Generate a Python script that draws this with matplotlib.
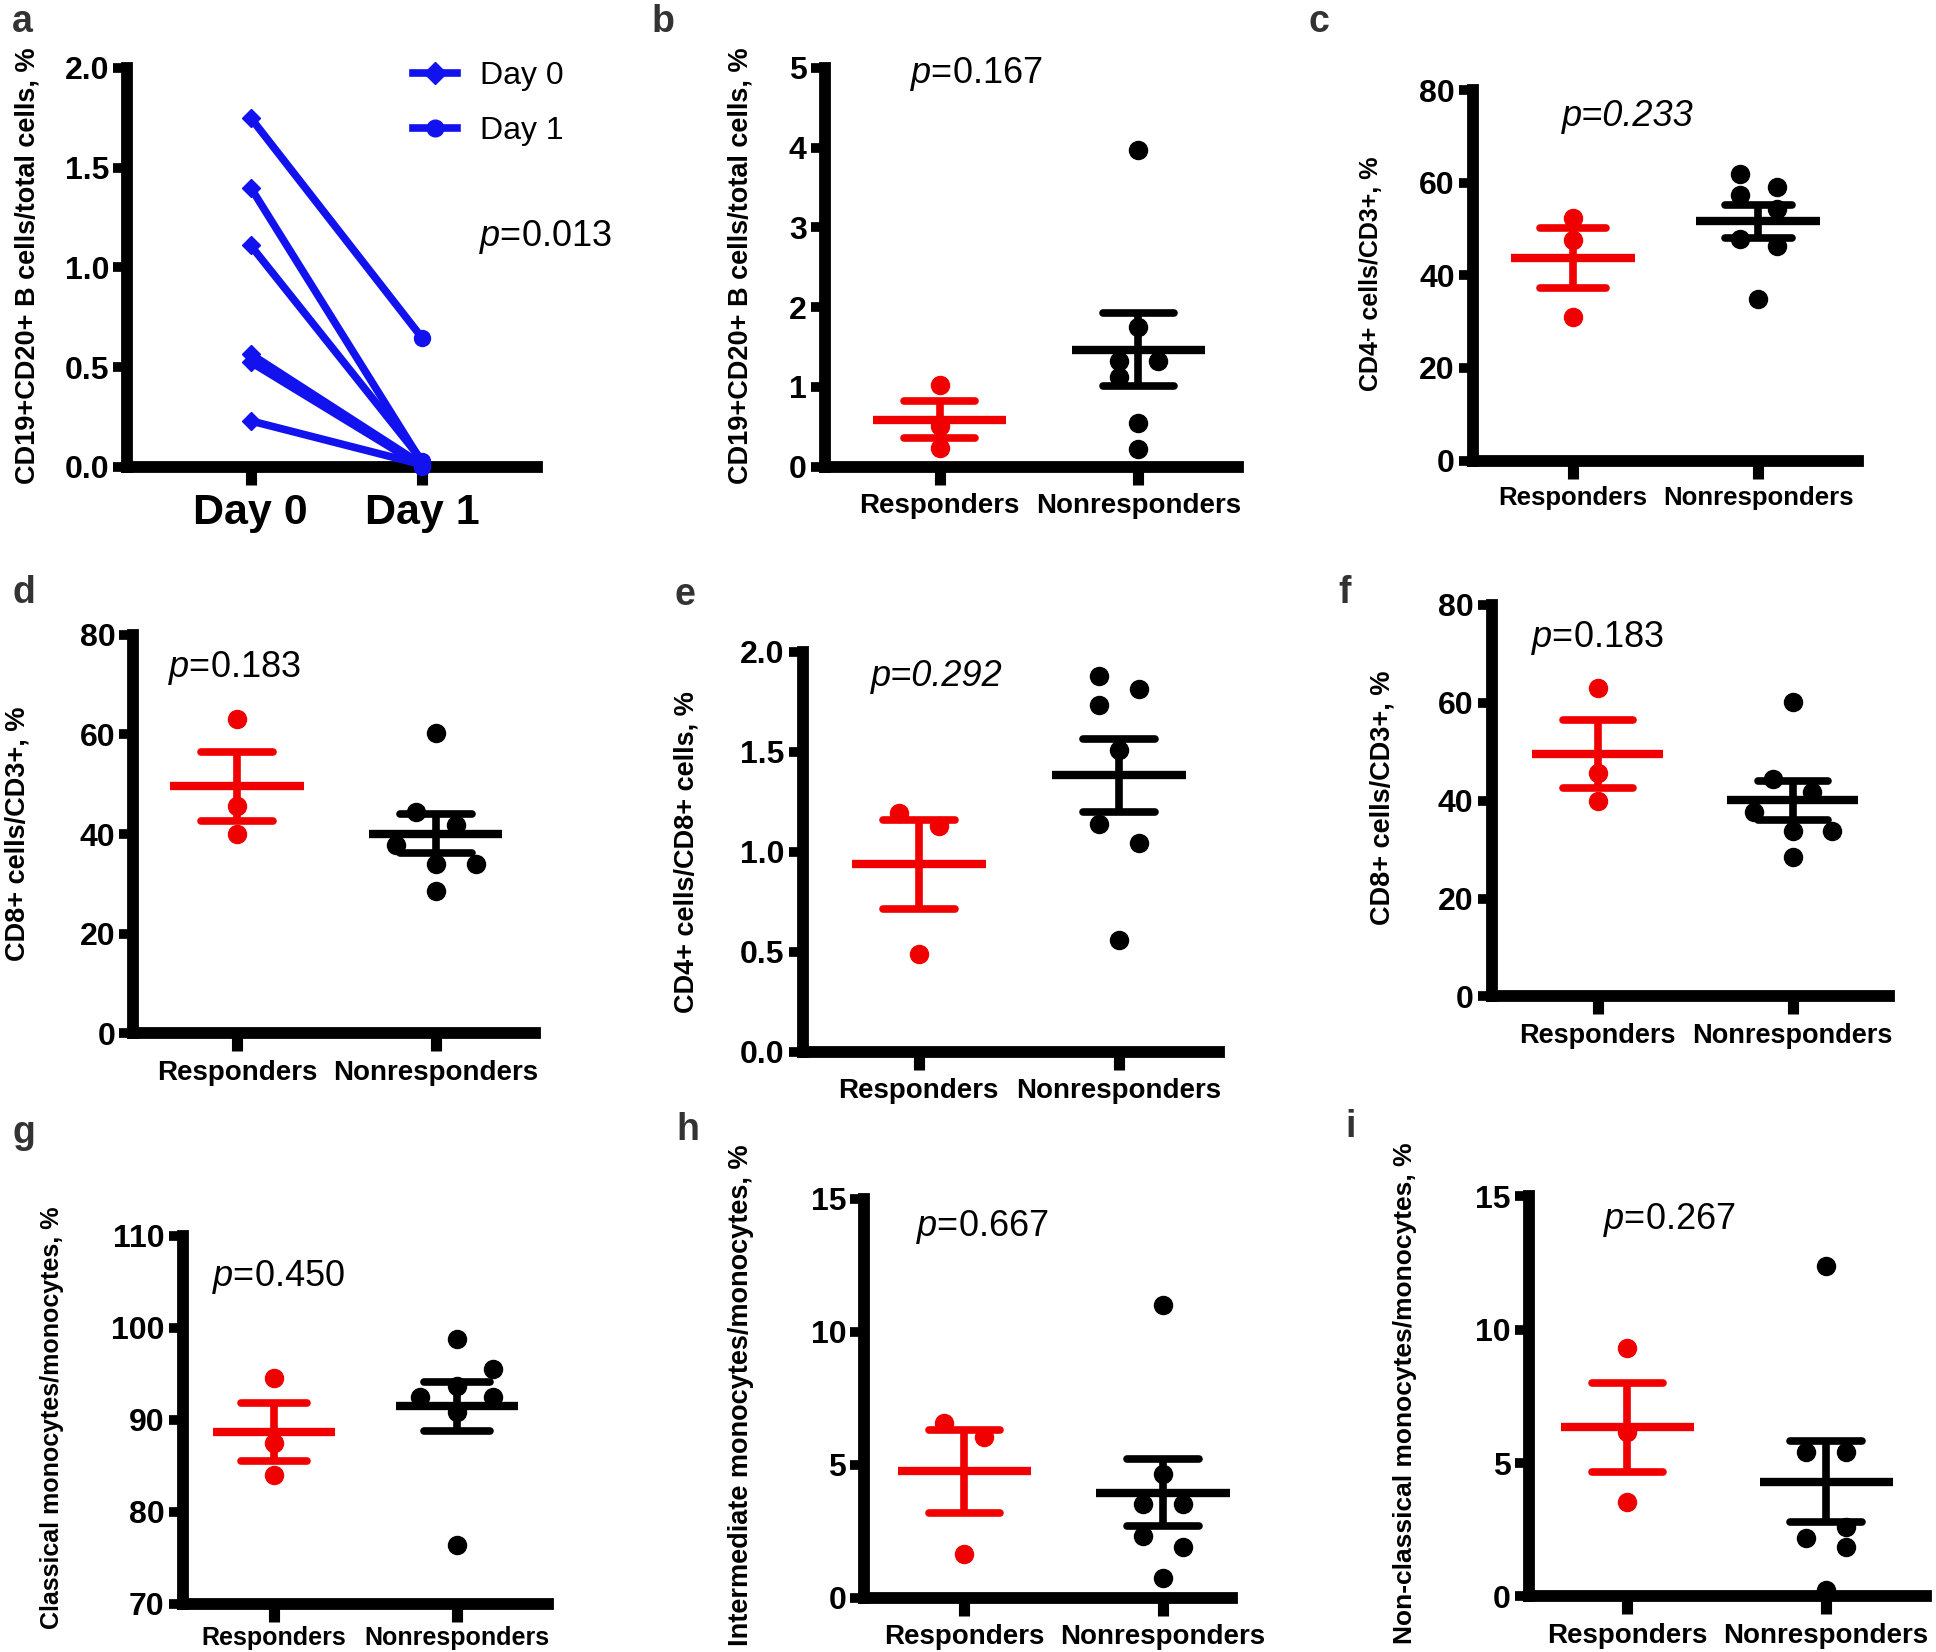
import matplotlib
matplotlib.use("Agg")
import matplotlib.pyplot as plt
from matplotlib.lines import Line2D
import numpy as np

plt.rcParams['font.family'] = ['Liberation Sans', 'DejaVu Sans']
plt.rcParams['mathtext.fontset'] = 'custom'
plt.rcParams['mathtext.rm'] = 'Liberation Sans'
plt.rcParams['mathtext.it'] = 'Liberation Sans:italic'
plt.rcParams['mathtext.bf'] = 'Liberation Sans:bold'

# ---------------- data ----------------
groups = ["Responders", "Nonresponders"]
days = ["Day 0", "Day 1"]

a_day0 = [1.75, 1.40, 1.11, 0.565, 0.525, 0.23]
a_day1 = [0.645, 0.02, 0.03, 0.01, 0.0, 0.01]

b_resp = [1.02, 0.51, 0.24]
b_non = [3.97, 1.75, 1.33, 1.33, 1.13, 0.55, 0.22]

c_resp = [52.4, 47.6, 31.0]
c_non = [61.9, 59.0, 57.4, 54.4, 47.9, 46.3, 34.8]

d_resp = [63.0, 45.7, 40.0]
d_non = [60.2, 44.4, 41.8, 37.7, 33.9, 33.9, 28.5]

e_resp = [1.193, 1.129, 0.491]
e_non = [1.879, 1.814, 1.733, 1.509, 1.138, 1.043, 0.560]

f_resp = [63.0, 45.7, 40.0]
f_non = [60.2, 44.4, 41.8, 37.7, 33.9, 33.9, 28.5]

g_resp = [94.6, 87.5, 84.0]
g_non = [98.8, 95.5, 93.7, 92.5, 92.5, 90.9, 76.4]

h_resp = [6.58, 6.03, 1.66]
h_non = [10.99, 4.64, 3.51, 3.51, 2.32, 1.92, 0.73]

i_resp = [9.32, 6.17, 3.53]
i_non = [12.40, 5.42, 5.42, 2.6, 2.21, 1.85, 0.26]

p_texts = {"a": "0.013", "b": "0.167", "c": "0.233", "d": "0.183", "e": "0.292",
           "f": "0.183", "g": "0.450", "h": "0.667", "i": "0.267"}

ylabels = {
    "a": "CD19+CD20+ B cells/total cells, %",
    "b": "CD19+CD20+ B cells/total cells, %",
    "c": "CD4+ cells/CD3+, %",
    "d": "CD8+ cells/CD3+, %",
    "e": "CD4+ cells/CD8+ cells, %",
    "f": "CD8+ cells/CD3+, %",
    "g": "Classical monocytes/monocytes, %",
    "h": "Intermediate monocytes/monocytes, %",
    "i": "Non-classical monocytes/monocytes, %",
}

# ---------------- layout (reference pixel frame) ----------------
SX, SY = 1568.0, 1338.0
RED = "#f00000"
BLUE = "#1212ee"
BLACK = "#000000"

fig = plt.figure(figsize=(19.36, 16.52), dpi=100)


def frame(xl, xr, yt, yb):
    return [xl / SX, 1 - yb / SY, (xr - xl) / SX, (yb - yt) / SY]


def make_axes(box, cats_px, yticks, ylabels_fmt, xlabels, xlabel_size=20, xpad=6):
    xl, xr, yt, yb = box
    ax = fig.add_axes(frame(xl, xr, yt, yb))
    c0, c1 = cats_px
    unit = c1 - c0
    ax.set_xlim((xl - c0) / unit, (xr - c0) / unit)
    ax.set_ylim(yticks[0], yticks[-1])
    for s in ['top', 'right']:
        ax.spines[s].set_visible(False)
    for s in ['left', 'bottom']:
        ax.spines[s].set_linewidth(8.5)
        ax.spines[s].set_capstyle('projecting')
    ax.set_yticks(yticks)
    ax.set_yticklabels([ylabels_fmt.format(v) for v in yticks])
    ax.set_xticks([0, 1])
    ax.set_xticklabels(xlabels)
    ax.tick_params(axis='y', direction='out', length=10, width=7, pad=3, labelsize=23)
    ax.tick_params(axis='x', direction='out', length=13, width=8, pad=xpad,
                   labelsize=xlabel_size)
    for lbl in ax.get_yticklabels() + ax.get_xticklabels():
        lbl.set_fontweight('bold')
    ax.patch.set_alpha(0)
    return ax


def scatter_group(ax, x, vals, offs, color):
    vals = np.asarray(vals, dtype=float)
    xs = x + np.asarray(offs, dtype=float)
    ax.plot(xs, vals, 'o', ms=13, color=color, mec=color, clip_on=False, zorder=3)
    m = vals.mean()
    s = vals.std(ddof=1) / np.sqrt(len(vals))
    lc = ax.hlines(m, x - 0.335, x + 0.335, colors=color, lw=6, zorder=4)
    lc.set_capstyle('butt')
    cc = ax.hlines([m - s, m + s], x - 0.18, x + 0.18, colors=color, lw=5.5, zorder=4)
    cc.set_capstyle('round')
    ax.vlines(x, m - s, m + s, colors=color, lw=5.5, zorder=4)


def ptext(ax_x, ax_y, key, italic_all=False):
    if italic_all:
        fig.text(ax_x / SX, 1 - ax_y / SY, "p=" + p_texts[key], fontsize=26,
                 fontstyle='italic', va='center', ha='left')
    else:
        fig.text(ax_x / SX, 1 - ax_y / SY, "$p$=" + p_texts[key], fontsize=26,
                 va='center', ha='left')


def ylab(x, y, key, size=19.5):
    fig.text(x / SX, 1 - y / SY, ylabels[key], rotation=90, fontsize=size,
             fontweight='bold', ha='center', va='center')


def letter(x, y, s):
    fig.text(x / SX, 1 - y / SY, s, fontsize=27, fontweight='bold', color='#333333',
             ha='left', va='center')


# ---------------- panel a ----------------
ax = make_axes((103, 435, 55, 378), (203, 342), [0.0, 0.5, 1.0, 1.5, 2.0], "{:.1f}",
               days, xlabel_size=31)
for v0, v1 in zip(a_day0, a_day1):
    ax.plot([0, 1], [v0, v1], '-', color=BLUE, lw=5.5, solid_capstyle='round',
            clip_on=False, zorder=3)
ax.plot(np.zeros(len(a_day0)), a_day0, 'D', ms=9.5, color=BLUE, clip_on=False, zorder=4)
ax.plot(np.ones(len(a_day1)), a_day1, 'o', ms=11.5, color=BLUE, clip_on=False, zorder=4)
handles = [Line2D([], [], color=BLUE, lw=5.5, marker='D', ms=11),
           Line2D([], [], color=BLUE, lw=5.5, marker='o', ms=12)]
ax.legend(handles, days, loc='upper left', bbox_to_anchor=((311 - 103) / 332, 1.09),
          frameon=False, fontsize=23, handlelength=1.4, handletextpad=0.7,
          labelspacing=0.8)
ptext(388, 192, "a")
ylab(22, 215, "a")
letter(10, 18, "a")

# ---------------- panel b ----------------
ax = make_axes((668, 1003, 55, 378), (761, 922), [0, 1, 2, 3, 4, 5], "{:d}", groups)
scatter_group(ax, 0, b_resp, [0, 0, 0], RED)
scatter_group(ax, 1, b_non, [0, 0, -0.1, 0.1, -0.1, 0, 0], BLACK)
ptext(737, 60, "b")
ylab(600, 215, "b")
letter(528, 18, "b")

# ---------------- panel c ----------------
ax = make_axes((1193, 1505, 73, 373), (1274, 1424), [0, 20, 40, 60, 80], "{:d}", groups,
               xlabel_size=18.5, xpad=5)
scatter_group(ax, 0, c_resp, [0, 0, 0], RED)
scatter_group(ax, 1, c_non, [-0.1, 0.1, -0.1, 0.1, -0.1, 0.1, 0], BLACK)
ptext(1265, 94, "c", italic_all=True)
ylab(1110, 222, "c", size=18)
letter(1060, 18, "c")

# ---------------- panel d ----------------
ax = make_axes((108, 433, 514, 837), (192, 353), [0, 20, 40, 60, 80], "{:d}", groups)
scatter_group(ax, 0, d_resp, [0, 0, 0], RED)
scatter_group(ax, 1, d_non, [0, -0.1, 0.1, -0.2, 0, 0.2, 0], BLACK)
ptext(136, 541, "d")
ylab(14, 675, "d")
letter(10, 480, "d")

# ---------------- panel e ----------------
ax = make_axes((650, 987, 528, 852), (744, 906), [0.0, 0.5, 1.0, 1.5, 2.0], "{:.1f}", groups)
scatter_group(ax, 0, e_resp, [-0.1, 0.1, 0], RED)
scatter_group(ax, 1, e_non, [-0.1, 0.1, -0.1, 0, -0.1, 0.1, 0], BLACK)
ptext(705, 548, "e", italic_all=True)
ylab(556, 690, "e")
letter(546, 482, "e")

# ---------------- panel f ----------------
ax = make_axes((1208, 1530, 490, 807), (1294, 1452), [0, 20, 40, 60, 80], "{:d}", groups,
               xlabel_size=19.5)
scatter_group(ax, 0, f_resp, [0, 0, 0], RED)
scatter_group(ax, 1, f_non, [0, -0.1, 0.1, -0.2, 0, 0.2, 0], BLACK)
ptext(1240, 517, "f")
ylab(1120, 646, "f")
letter(1084, 480, "f")

# ---------------- panel g ----------------
ax = make_axes((148, 444, 1001, 1299), (222, 370), [70, 80, 90, 100, 110], "{:d}", groups,
               xlabel_size=18, xpad=3)
scatter_group(ax, 0, g_resp, [0, 0, 0], RED)
scatter_group(ax, 1, g_non, [0, 0.2, 0, -0.2, 0.2, 0, 0], BLACK)
ptext(172, 1034, "g")
ylab(42, 1148, "g", size=18)
letter(10, 918, "g")

# ---------------- panel h ----------------
ax = make_axes((700, 998, 971, 1294), (781, 942), [0, 5, 10, 15], "{:d}", groups)
scatter_group(ax, 0, h_resp, [-0.1, 0.1, 0], RED)
scatter_group(ax, 1, h_non, [0, 0, -0.1, 0.1, -0.1, 0.1, 0], BLACK)
ptext(742, 994, "h")
ylab(600, 1130, "h")
letter(548, 915, "h")

# ---------------- panel i ----------------
ax = make_axes((1238, 1560, 969, 1293), (1318, 1479), [0, 5, 10, 15], "{:d}", groups)
scatter_group(ax, 0, i_resp, [0, 0, 0], RED)
scatter_group(ax, 1, i_non, [0, -0.1, 0.1, 0.1, -0.1, 0.1, 0], BLACK)
ptext(1298, 988, "i")
ylab(1138, 1128, "i", size=19)
letter(1090, 913, "i")

fig.savefig("out.png", dpi=100)
